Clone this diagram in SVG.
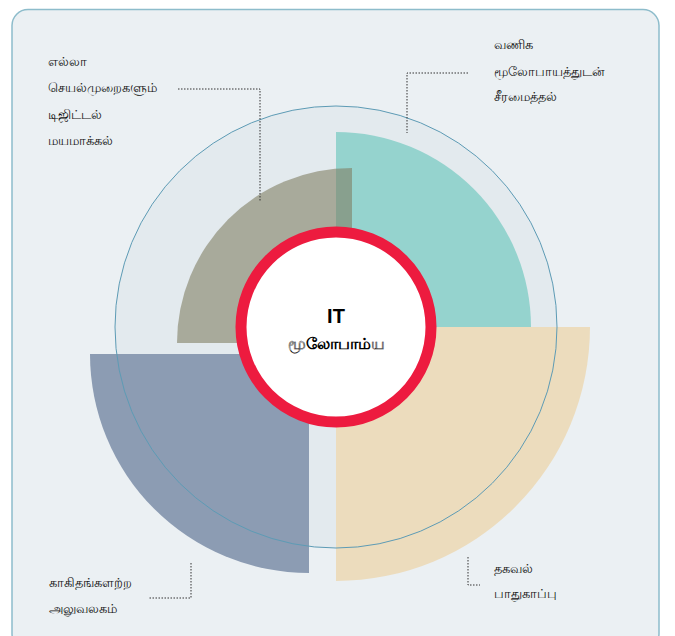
<svg xmlns="http://www.w3.org/2000/svg" width="675" height="636" viewBox="0 0 675 636">
<style>
.lbl{font-family:"Liberation Sans","Noto Sans",sans-serif;font-size:13px;fill:#111}
.ctr{font-family:"Liberation Sans","Noto Sans",sans-serif;fill:#000;text-anchor:middle;font-weight:bold}
.dot{fill:none;stroke:#333;stroke-width:1;stroke-dasharray:1.5 1.5}
</style>
<rect x="12" y="9.5" width="647" height="640" rx="16" fill="#ebf0f3" stroke="#8dbccb" stroke-width="1.5"/>
<g id="outer-circle">
<circle cx="336" cy="327" r="221" fill="#e3eaee"/>
</g>
<g id="quad-teal"><path d="M336,327 L336,132 A195,195 0 0 1 531,327 Z" fill="#95d3ce"/></g>
<g id="quad-tan"><path d="M336,327 L590,327 A254,254 0 0 1 336,581 Z" fill="#ecdcbd"/></g>
<g id="quad-blue"><path d="M309,354 L309,573 A219,219 0 0 1 90,354 Z" fill="#8c9cb3"/></g>
<g id="quad-gray"><path d="M352,343 L177,343 A175,175 0 0 1 352,168 Z" fill="#807e64" fill-opacity="0.6"/></g>
<circle cx="336" cy="327" r="221" fill="none" stroke="#5d9bb5" stroke-width="1"/>
<g id="center">
<circle cx="336" cy="327" r="95" fill="#ffffff" stroke="#ed1b3f" stroke-width="11"/>
<text class="ctr" x="336" y="323" font-size="20">IT</text>
<text class="ctr" x="336" y="349" font-size="16">மூலோபாம்ய</text>
</g>
<g id="connectors">
<path class="dot" d="M178,89 H260 V202"/>
<path class="dot" d="M468,73 H407 V133"/>
<path class="dot" d="M191,563 V598 H148"/>
<path class="dot" d="M468,557 V585 H480"/>
</g>
<g id="label-digital">
<text class="lbl" x="48" y="66">எல்லா</text>
<text class="lbl" x="48" y="92">செயல்முறைகளும்</text>
<text class="lbl" x="48" y="119">டிஜிட்டல்</text>
<text class="lbl" x="48" y="145">மயமாக்கல்</text>
</g>
<g id="label-business">
<text class="lbl" x="494" y="49">வணிக</text>
<text class="lbl" x="494" y="76">மூலோபாயத்துடன்</text>
<text class="lbl" x="494" y="101">சீரமைத்தல்</text>
</g>
<g id="label-paperless">
<text class="lbl" x="49" y="587">காகிதங்களற்ற</text>
<text class="lbl" x="49" y="613">அலுவலகம்</text>
</g>
<g id="label-security">
<text class="lbl" x="494" y="573">தகவல்</text>
<text class="lbl" x="494" y="598">பாதுகாப்பு</text>
</g>
</svg>
